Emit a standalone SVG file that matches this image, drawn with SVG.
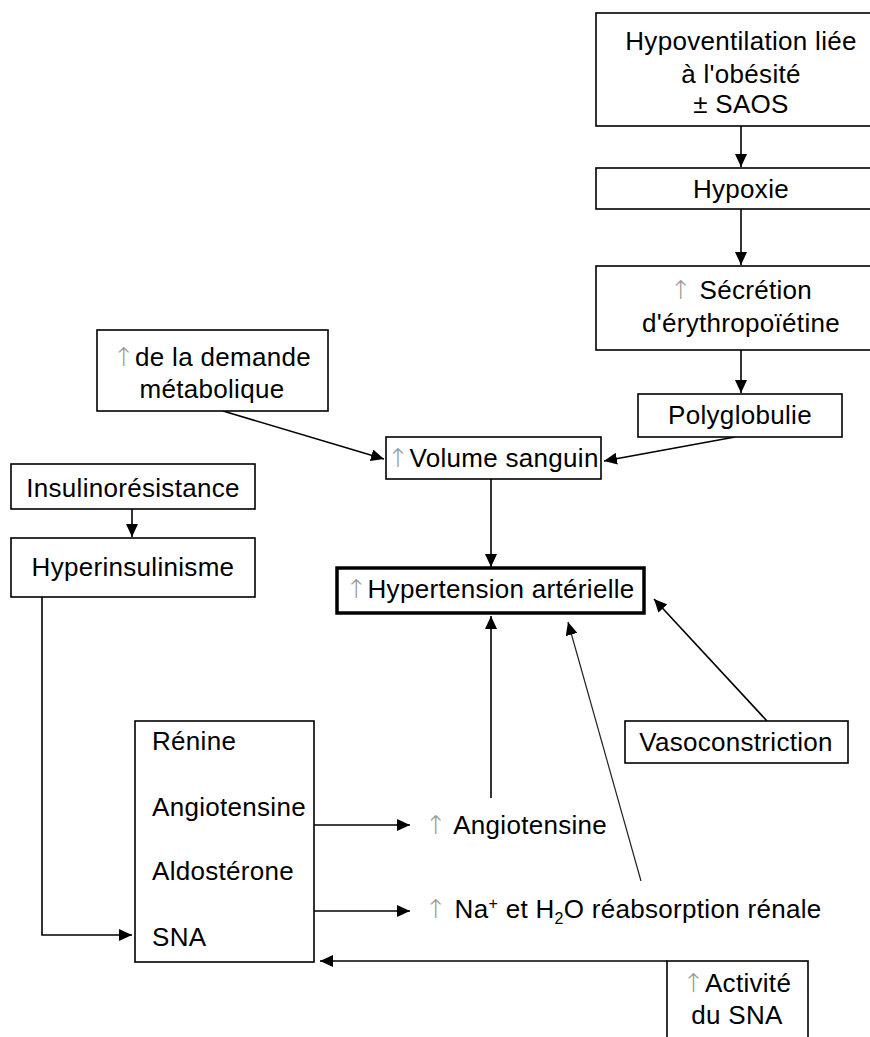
<svg xmlns="http://www.w3.org/2000/svg" width="870" height="1037" viewBox="0 0 870 1037">
<style>
  .box { fill: #ffffff; stroke: #000000; stroke-width: 1.6; }
  .thick { fill: #ffffff; stroke: #000000; stroke-width: 3.5; }
  .t { font-family: "Liberation Sans", Arial, sans-serif; font-size: 26px; letter-spacing: 0.3px; fill: #000000; }
  .c { text-anchor: middle; }
  .up { fill: #9a9a9a; font-family: "DejaVu Sans", sans-serif; font-size: 26px; font-weight: 200; }
  .ln { fill: none; stroke: #000000; stroke-width: 1.6; marker-end: url(#ah); }
  .thin { fill: none; stroke: #222222; stroke-width: 1.2; marker-end: url(#ah); }
</style>
<defs>
  <marker id="ah" markerWidth="14" markerHeight="12" refX="13" refY="6" orient="auto" markerUnits="userSpaceOnUse">
    <path d="M0,0 L13,6 L0,12 z" fill="#000000"/>
  </marker>
</defs>
<rect width="870" height="1037" fill="#ffffff"/>

<g id="connectors">
  <line class="ln" x1="741" y1="126" x2="741" y2="167"/>
  <line class="ln" x1="741" y1="209" x2="741" y2="265"/>
  <line class="ln" x1="741" y1="350" x2="741" y2="393"/>
  <line class="ln" x1="735" y1="437" x2="604" y2="461"/>
  <line class="ln" x1="223" y1="411" x2="384" y2="459"/>
  <line class="ln" x1="491" y1="479" x2="491" y2="567"/>
  <line class="ln" x1="132" y1="509" x2="132" y2="537"/>
  <path class="ln" d="M42,597 V935 H132"/>
  <line class="ln" x1="314" y1="825" x2="410" y2="825"/>
  <line class="ln" x1="314" y1="911" x2="410" y2="911"/>
  <line class="ln" x1="491" y1="798" x2="491" y2="616"/>
  <line class="thin" x1="641" y1="881" x2="568" y2="622"/>
  <line class="ln" x1="767" y1="721" x2="654" y2="599"/>
  <line class="ln" x1="667" y1="961" x2="320" y2="961"/>
</g>

<g id="hypoventilation">
  <rect class="box" x="596" y="13" width="290" height="113"/>
  <text class="t c" x="741" y="50">Hypoventilation liée</text>
  <text class="t c" x="741" y="83">à l'obésité</text>
  <text class="t c" x="741" y="113">± SAOS</text>
</g>
<g id="hypoxie">
  <rect class="box" x="596" y="168" width="290" height="41"/>
  <text class="t c" x="741" y="198">Hypoxie</text>
</g>
<g id="secretion">
  <rect class="box" x="596" y="266" width="290" height="84"/>
  <text class="t c" x="741" y="299"><tspan class="up">↑</tspan> Sécrétion</text>
  <text class="t c" x="741" y="332">d'érythropoïétine</text>
</g>
<g id="polyglobulie">
  <rect class="box" x="638" y="394" width="204" height="43"/>
  <text class="t c" x="740" y="424">Polyglobulie</text>
</g>
<g id="demande">
  <rect class="box" x="97" y="330" width="231" height="81"/>
  <text class="t c" x="212" y="366"><tspan class="up">↑</tspan>de la demande</text>
  <text class="t c" x="212" y="398">métabolique</text>
</g>
<g id="volume">
  <rect class="box" x="386" y="437" width="215" height="42"/>
  <text class="t c" x="493" y="467"><tspan class="up">↑</tspan>Volume sanguin</text>
</g>
<g id="hypertension">
  <rect class="thick" x="337" y="568" width="307" height="45"/>
  <text class="t c" x="490" y="598"><tspan class="up">↑</tspan>Hypertension artérielle</text>
</g>
<g id="insulinoresistance">
  <rect class="box" x="11" y="464" width="244" height="45"/>
  <text class="t c" x="133" y="497">Insulinorésistance</text>
</g>
<g id="hyperinsulinisme">
  <rect class="box" x="11" y="538" width="244" height="59"/>
  <text class="t c" x="133" y="576">Hyperinsulinisme</text>
</g>
<g id="sna-box">
  <rect class="box" x="135" y="721" width="179" height="241"/>
  <text class="t" x="152" y="750">Rénine</text>
  <text class="t" x="152" y="816">Angiotensine</text>
  <text class="t" x="152" y="880">Aldostérone</text>
  <text class="t" x="152" y="946">SNA</text>
</g>
<g id="angiotensine-up">
  <text class="t" x="425" y="834"><tspan class="up">↑</tspan> Angiotensine</text>
</g>
<g id="reabsorption">
  <text class="t" x="425" y="918"><tspan class="up">↑</tspan> Na<tspan font-size="16" dy="-9">+</tspan><tspan dy="9"> et H</tspan><tspan font-size="16" dy="6">2</tspan><tspan dy="-6">O réabsorption rénale</tspan></text>
</g>
<g id="vasoconstriction">
  <rect class="box" x="625" y="721" width="223" height="42"/>
  <text class="t c" x="736" y="751">Vasoconstriction</text>
</g>
<g id="activite-sna">
  <rect class="box" x="667" y="961" width="141" height="100"/>
  <text class="t c" x="737" y="992"><tspan class="up">↑</tspan>Activité</text>
  <text class="t c" x="737" y="1024">du SNA</text>
</g>
</svg>
